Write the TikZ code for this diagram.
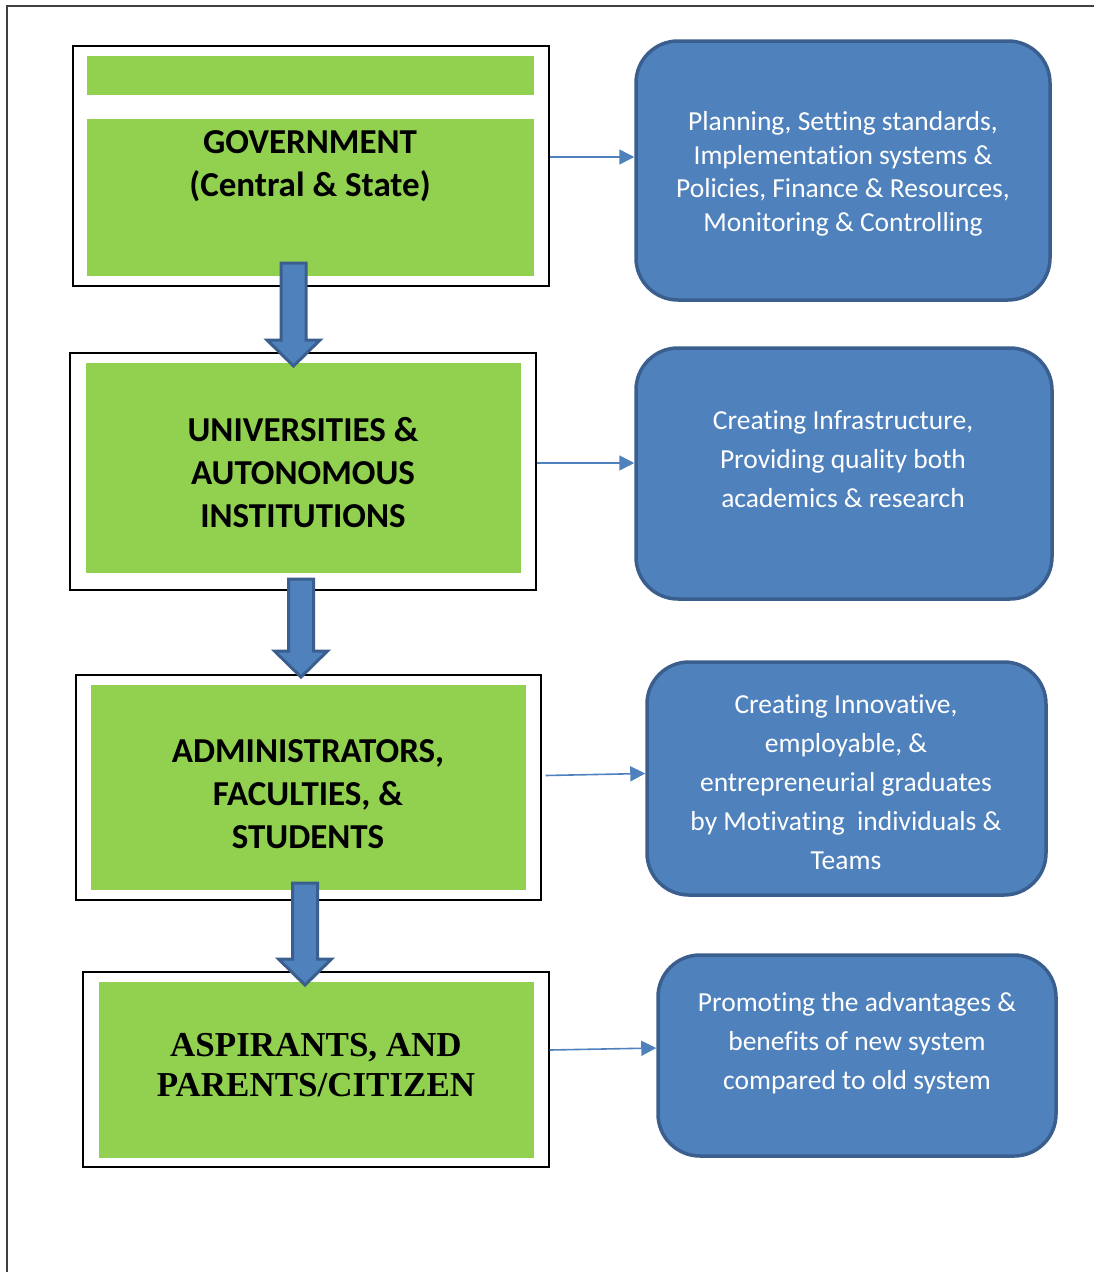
\documentclass[tikz,border=0pt]{standalone}
\usepackage{fontspec}
\setmainfont{Carlito}[Ligatures={NoCommon,NoRare,NoDiscretionary}]
\newfontfamily\serifb{Liberation Serif}
\usetikzlibrary{fit,arrows.meta,calc}
\definecolor{grn}{HTML}{92D050}
\definecolor{bfill}{HTML}{4F81BD}
\definecolor{bdraw}{HTML}{3A5F8E}
\begin{document}
\begin{tikzpicture}[x=1pt,y=-1pt,
  outerbox/.style={draw=black,line width=1.3pt,inner sep=0pt,fill=white},
  greenbox/.style={fill=grn,inner sep=0pt},
  bluebox/.style={draw=bdraw,fill=bfill,line width=3.5pt,rounded corners=42pt,inner sep=0pt},
  gtext/.style={align=center,font=\bfseries\fontsize{35}{43}\selectfont,text=black},
  wtext/.style={align=center,font=\fontsize{27.5}{39}\selectfont,text=white},
  conn/.style={draw=bfill,line width=1.6pt,-{Triangle[length=15pt,width=15pt]}},
  blockarrow/.style={fill=bfill,draw=bdraw,line width=3pt,line join=miter}
]
\useasboundingbox (0,0) rectangle (1094,1272);
% outer frame
\draw[draw=black!75,line width=2pt] (7,1272) -- (7,6) -- (1094,6);

% left column boxes
\node[outerbox,fit={(73,46)(549,286)}] (o1) {};
\node[greenbox,fit={(87,56)(534,95)}] (s1) {};
\node[greenbox,fit={(87,119)(534,276)}] (g1) {};
\node[gtext] (t1) at (310,166.5) {GOVERNMENT\\(Central \& State)};

\node[outerbox,fit={(70,353)(536,590)}] (o2) {};
\node[greenbox,fit={(86,363)(521,573)}] (g2) {};
\node[gtext] (t2) at (303,473) {UNIVERSITIES \&\\AUTONOMOUS\\INSTITUTIONS};

\node[outerbox,fit={(76,675)(541,900)}] (o3) {};
\node[greenbox,fit={(91,685)(526,890)}] (g3) {};
\node[gtext] (t3) at (308,794) {ADMINISTRATORS,\\FACULTIES, \&\\STUDENTS};

\node[outerbox,fit={(83,972)(549,1167)}] (o4) {};
\node[greenbox,fit={(99,982)(534,1158)}] (g4) {};
\node[gtext,font=\serifb\bfseries\fontsize{35}{40}\selectfont] (t4) at (316,1065) {ASPIRANTS, AND\\PARENTS/CITIZEN};

% right column boxes
\node[bluebox,fit={(636,41)(1050,300)}] (b1) {};
\node[wtext,font=\fontsize{27.5}{33.5}\selectfont] (w1) at (843,174) {Planning, Setting standards,\\Implementation systems \&\\Policies, Finance \& Resources,\\Monitoring \& Controlling};

\node[bluebox,fit={(636,348)(1052,599)}] (b2) {};
\node[wtext] (w2) at (843,459.5) {Creating Infrastructure,\\Providing quality both\\academics \& research};

\node[bluebox,fit={(647,662)(1046,895)}] (b3) {};
\node[wtext] (w3) at (846,782.5) {Creating Innovative,\\employable, \&\\entrepreneurial graduates\\by Motivating\ \ individuals \&\\Teams};

\node[bluebox,fit={(658,955)(1056,1156)}] (b4) {};
\node[wtext] (w4) at (857,1043) {Promoting the advantages \&\\benefits of new system\\compared to old system};

% connectors
\draw[conn] ([yshift=9pt]o1.east) -- ([yshift=9pt]o1.east -| b1.west);
\draw[conn] ([yshift=8.5pt]o2.east) -- ([yshift=8.5pt]o2.east -| b2.west);
\draw[conn] ([xshift=4pt,yshift=12pt]o3.east) -- ([yshift=14pt]o3.east -| b3.west);
\draw[conn] ([yshift=19.5pt]o4.east) -- ([yshift=21.5pt]o4.east -| b4.west);

% block arrows
\foreach \name/\cx/\top/\tip in {a1/293.5/263/366, a2/301/579/677, a3/305/883/985}{
  \coordinate (\name) at (\cx,\top);
  \draw[blockarrow] ($(\name)+(-12.5,0)$) -- ($(\name)+(12.5,0)$) -- ($(\name)+(12.5,\tip-\top-26)$)
    -- ($(\name)+(26.5,\tip-\top-26)$) -- ($(\name)+(0,\tip-\top)$) -- ($(\name)+(-26.5,\tip-\top-26)$)
    -- ($(\name)+(-12.5,\tip-\top-26)$) -- cycle;
}
\end{tikzpicture}
\end{document}
